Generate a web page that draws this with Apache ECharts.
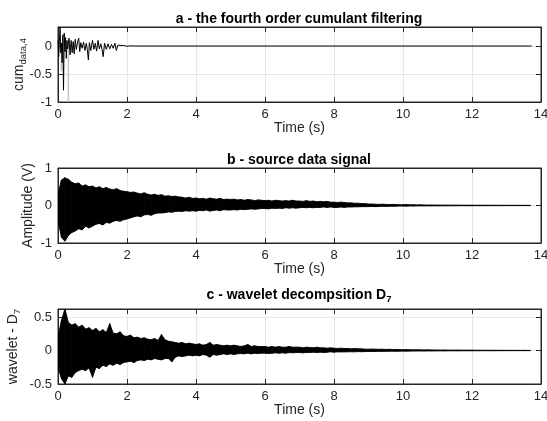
<!DOCTYPE html>
<html>
<head>
<meta charset="utf-8">
<script src="https://cdn.jsdelivr.net/npm/echarts@6/dist/echarts.min.js"></script>
<style>
html,body{margin:0;padding:0;background:#fff;}
#chart{width:547px;height:421px;}
</style>
</head>
<body>
<div id="chart"></div>
<script>
// ---------------- DATA ----------------
const titles = [
  'a - the fourth order cumulant filtering',
  'b - source data signal',
  'c - wavelet decompsition D{sub|7}'
];

// (a) fourth order cumulant: sample times (s) and values
const aTime = [
  0, 0.02, 0.04, 0.06, 0.08, 0.10, 0.12, 0.14, 0.16, 0.18,
  0.20, 0.22, 0.24, 0.26, 0.28, 0.32, 0.35, 0.38, 0.41, 0.44,
  0.47, 0.50, 0.53, 0.56, 0.60, 0.63, 0.66, 0.70, 0.74, 0.78,
  0.82, 0.85, 0.88, 0.91, 0.95, 1.00, 1.04, 1.08, 1.12, 1.16,
  1.20, 1.24, 1.28, 1.31, 1.35, 1.40, 1.45, 1.50, 1.55, 1.60,
  1.65, 1.69, 1.74, 1.80, 1.85, 1.90, 2.00, 2.10, 2.20, 13.73
];
const aValue = [
  0.10, -0.19, 0.08, 0.34, -0.12, 0.05, -0.30, 0.20, -0.79, 0.23,
  -0.10, 0.15, -0.22, 0.10, -0.05, 0.14, -0.16, 0.10, -0.12, 0.08,
  -0.14, 0.12, -0.06, 0.05, 0.14, -0.10, 0.06, -0.04, 0.07, -0.08,
  0.05, -0.06, -0.25, 0.06, -0.08, 0.10, -0.06, 0.05, -0.09, 0.10,
  -0.05, 0.04, -0.07, -0.19, 0.05, -0.06, 0.04, -0.05, 0.03, -0.04,
  0.05, -0.08, 0.02, 0.01, -0.015, 0.01, -0.005, 0.005, 0, 0
];
// faint (thin, anti-aliased) spikes in (a)
const aFaintTime = [0.10, 0.30];
const aFaintValue = [-0.45, -1.0];

// (b) and (c): envelope (upper / lower) of the dense signal, one pair every 0.1 s from 0 to 13.7 s
const SAMPLE_STEP = 0.1;
const bUpper = [
  0.30,0.68,0.74,0.70,0.62,0.58,0.60,0.52,0.55,0.50,
  0.52,0.47,0.50,0.45,0.48,0.44,0.42,0.45,0.40,0.38,
  0.37,0.35,0.36,0.33,0.31,0.34,0.30,0.28,0.30,0.27,
  0.29,0.25,0.26,0.24,0.25,0.23,0.22,0.20,0.22,0.19,
  0.20,0.18,0.19,0.17,0.20,0.18,0.17,0.19,0.16,0.17,
  0.16,0.17,0.15,0.16,0.14,0.16,0.15,0.13,0.15,0.14,
  0.13,0.14,0.12,0.14,0.13,0.12,0.13,0.12,0.14,0.12,
  0.12,0.11,0.13,0.11,0.12,0.10,0.11,0.10,0.11,0.09,
  0.09,0.08,0.09,0.08,0.07,0.07,0.06,0.06,0.05,0.05,
  0.04,0.04,0.035,0.03,0.035,0.03,0.025,0.03,0.025,0.02,
  0.02,0.025,0.018,0.02,0.015,0.018,0.015,0.012,0.015,0.012,
  0.012,0.01,0.012,0.01,0.01,0.009,0.01,0.008,0.009,0.008,
  0.008,0.007,0.008,0.007,0.006,0.007,0.006,0.006,0.005,0.006,
  0.005,0.005,0.006,0.005,0.004,0.005,0.004,0.004
];
const bLower = [
  -0.40,-0.85,-0.95,-0.80,-0.72,-0.68,-0.62,-0.65,-0.55,-0.60,
  -0.55,-0.50,-0.48,-0.52,-0.45,-0.47,-0.42,-0.40,-0.42,-0.38,
  -0.36,-0.33,-0.30,-0.28,-0.30,-0.25,-0.24,-0.26,-0.22,-0.20,
  -0.20,-0.19,-0.17,-0.18,-0.16,-0.15,-0.16,-0.14,-0.15,-0.14,
  -0.15,-0.13,-0.14,-0.12,-0.15,-0.13,-0.12,-0.14,-0.11,-0.12,
  -0.12,-0.11,-0.12,-0.10,-0.11,-0.10,-0.09,-0.10,-0.09,-0.08,
  -0.08,-0.09,-0.07,-0.08,-0.07,-0.08,-0.06,-0.07,-0.06,-0.07,
  -0.06,-0.05,-0.06,-0.05,-0.06,-0.05,-0.05,-0.04,-0.05,-0.04,
  -0.05,-0.05,-0.04,-0.05,-0.04,-0.04,-0.035,-0.035,-0.03,-0.03,
  -0.03,-0.025,-0.03,-0.025,-0.02,-0.025,-0.02,-0.02,-0.018,-0.015,
  -0.015,-0.018,-0.012,-0.015,-0.012,-0.01,-0.012,-0.01,-0.01,-0.009,
  -0.01,-0.008,-0.009,-0.008,-0.007,-0.008,-0.007,-0.006,-0.007,-0.006,
  -0.006,-0.005,-0.006,-0.005,-0.005,-0.004,-0.005,-0.004,-0.004,-0.004,
  -0.004,-0.004,-0.003,-0.004,-0.003,-0.003,-0.003,-0.003
];
const cUpper = [
  0.20,0.45,0.62,0.42,0.38,0.40,0.35,0.38,0.32,0.34,
  0.30,0.33,0.28,0.31,0.27,0.40,0.26,0.25,0.28,0.22,
  0.21,0.23,0.19,0.20,0.18,0.19,0.17,0.16,0.18,0.15,
  0.24,0.16,0.14,0.13,0.12,0.11,0.12,0.10,0.11,0.10,
  0.09,0.10,0.08,0.09,0.12,0.08,0.09,0.08,0.07,0.08,
  0.07,0.08,0.07,0.06,0.07,0.09,0.06,0.07,0.06,0.06,
  0.06,0.05,0.06,0.05,0.06,0.05,0.05,0.06,0.05,0.05,
  0.05,0.04,0.05,0.045,0.04,0.05,0.04,0.04,0.035,0.04,
  0.035,0.03,0.035,0.03,0.03,0.025,0.03,0.025,0.025,0.02,
  0.02,0.022,0.02,0.018,0.02,0.016,0.018,0.015,0.016,0.014,
  0.012,0.014,0.012,0.01,0.012,0.01,0.009,0.01,0.009,0.008,
  0.008,0.007,0.008,0.007,0.006,0.007,0.006,0.006,0.005,0.006,
  0.005,0.005,0.004,0.005,0.004,0.004,0.004,0.003,0.004,0.003,
  0.003,0.003,0.003,0.003,0.002,0.003,0.002,0.002
];
const cLower = [
  -0.25,-0.42,-0.50,-0.38,-0.40,-0.33,-0.30,-0.28,-0.30,-0.26,
  -0.40,-0.25,-0.27,-0.22,-0.24,-0.20,-0.22,-0.19,-0.21,-0.18,
  -0.17,-0.16,-0.18,-0.15,-0.14,-0.15,-0.13,-0.14,-0.12,-0.13,
  -0.14,-0.12,-0.12,-0.17,-0.10,-0.08,-0.09,-0.08,-0.07,-0.08,
  -0.07,-0.08,-0.06,-0.07,-0.10,-0.06,-0.07,-0.06,-0.05,-0.06,
  -0.05,-0.06,-0.05,-0.045,-0.05,-0.04,-0.05,-0.04,-0.045,-0.04,
  -0.04,-0.045,-0.04,-0.035,-0.04,-0.035,-0.04,-0.03,-0.035,-0.03,
  -0.03,-0.035,-0.03,-0.03,-0.025,-0.03,-0.025,-0.03,-0.025,-0.02,
  -0.025,-0.02,-0.022,-0.02,-0.02,-0.018,-0.02,-0.016,-0.018,-0.015,
  -0.015,-0.014,-0.015,-0.012,-0.013,-0.012,-0.011,-0.01,-0.011,-0.01,
  -0.009,-0.01,-0.009,-0.008,-0.008,-0.007,-0.008,-0.006,-0.007,-0.006,
  -0.006,-0.005,-0.006,-0.005,-0.005,-0.004,-0.005,-0.004,-0.004,-0.004,
  -0.004,-0.003,-0.004,-0.003,-0.003,-0.003,-0.003,-0.003,-0.002,-0.003,
  -0.002,-0.002,-0.002,-0.002,-0.002,-0.002,-0.002,-0.002
];

// y-axis settings per panel
const yMin = [-1, -1, -0.5];
const yMax = [0.34, 1, 0.62];
const yInterval = [0.5, 1, 0.5];
const yNames = ['cum{sub|data,4}', 'Amplitude (V)', 'wavelet - D{sub|7}'];

// ---------------- BUILD ----------------
const FONT = 'Liberation Sans, Arial, Helvetica, sans-serif';
const AX = '#262626';
const GRIDC = '#e6e6e6';
const gridTops = [27, 168, 309];
const gridH = 75;
const TICK_FS = 13, NAME_FS = 14;

function sampleTime(i) { return +(i * SAMPLE_STEP).toFixed(3); }
const aData = aTime.map((t, i) => [t, aValue[i]]);
const aFaint = [];
aFaintTime.forEach((t, i) => { aFaint.push([t, 0], [t, aFaintValue[i]], [t, 0], null); });

const grids = gridTops.map(t => ({
  left: 58, right: 6, top: t, height: gridH, containLabel: false, outerBoundsMode: 'none',
  show: true, borderColor: AX, borderWidth: 1, backgroundColor: '#fff'
}));

const subRich = {
  sub: { fontSize: 9.5, fontFamily: FONT, color: AX, padding: [8, 0, 0, 0] }
};

const tickStyle = { show: true, inside: true, length: 5, lineStyle: { color: AX, width: 1 } };
const lineStyleAx = { show: true, onZero: false, lineStyle: { color: AX, width: 1 } };
const xAxes = [], yAxes = [];
for (let g = 0; g < 3; g++) {
  xAxes.push({
    type: 'value', gridIndex: g, position: 'bottom', min: 0, max: 14, interval: 2,
    name: 'Time (s)', nameLocation: 'middle', nameGap: 19, nameMoveOverlap: false,
    nameTextStyle: { fontFamily: FONT, fontSize: NAME_FS, color: AX },
    axisLine: lineStyleAx, axisTick: tickStyle,
    axisLabel: { fontFamily: FONT, fontSize: TICK_FS, color: AX, margin: 6 },
    splitLine: { show: true, lineStyle: { color: GRIDC, width: 1 } }
  });
  xAxes.push({
    type: 'value', gridIndex: g, position: 'top', min: 0, max: 14, interval: 2,
    axisLine: lineStyleAx, axisTick: tickStyle,
    axisLabel: { show: false }, splitLine: { show: false }
  });
  yAxes.push({
    type: 'value', gridIndex: g, position: 'left', min: yMin[g], max: yMax[g], interval: yInterval[g],
    name: yNames[g], nameLocation: 'middle', nameGap: [30, 23, 36][g], nameRotate: 90,
    nameMoveOverlap: false,
    nameTextStyle: { fontFamily: FONT, fontSize: NAME_FS, color: AX, rich: subRich },
    axisLine: lineStyleAx, axisTick: tickStyle,
    axisLabel: { fontFamily: FONT, fontSize: TICK_FS, color: AX, margin: 6, showMaxLabel: g === 1 },
    splitLine: { show: true, lineStyle: { color: GRIDC, width: 1 } }
  });
  yAxes.push({
    type: 'value', gridIndex: g, position: 'right', min: yMin[g], max: yMax[g], interval: yInterval[g],
    axisLine: lineStyleAx, axisTick: tickStyle,
    axisLabel: { show: false }, splitLine: { show: false }
  });
}

const titleTops = [12, 153, 286];
const titleOpts = titles.map((txt, i) => ({
  text: txt, left: 299, top: titleTops[i], textAlign: 'center', padding: 0,
  textStyle: { fontFamily: FONT, fontSize: 14, fontWeight: 'bold', color: '#000',
    rich: { sub: { fontSize: 9.5, fontWeight: 'bold', fontFamily: FONT, color: '#000', padding: [8, 0, 0, 0] } } }
}));

// dense signal: band between the envelope samples, each piece placed through the axes
function envelopeSeries(up, lo, axis) {
  return {
    type: 'custom', xAxisIndex: axis, yAxisIndex: axis, animation: false, clip: true,
    data: up.map((u, i) => [sampleTime(i), u, lo[i]]),
    encode: { x: 0, y: [1, 2] },
    renderItem: function (params, api) {
      const i = params.dataIndex;
      if (i >= up.length - 1) return null;
      const t0 = sampleTime(i), t1 = sampleTime(i + 1);
      const pts = [
        api.coord([t0, up[i]]), api.coord([t1, up[i + 1]]),
        api.coord([t1, lo[i + 1]]), api.coord([t0, lo[i]])
      ];
      return {
        type: 'polygon',
        shape: { points: pts },
        style: { fill: '#000', stroke: '#000', lineWidth: 0.9 }
      };
    }
  };
}

const lineBase = { type: 'line', showSymbol: false, symbol: 'none', animation: false, clip: true };
const series = [
  Object.assign({}, lineBase, { xAxisIndex: 0, yAxisIndex: 0, data: aFaint, connectNulls: false,
    lineStyle: { color: '#c4c4c4', width: 1.5 } }),
  Object.assign({}, lineBase, { xAxisIndex: 0, yAxisIndex: 0, data: aData,
    lineStyle: { color: '#000', width: 1 } }),
  envelopeSeries(bUpper, bLower, 2),
  envelopeSeries(cUpper, cLower, 4)
];

const chart = echarts.init(document.getElementById('chart'), null, { renderer: 'canvas' });
chart.setOption({
  animation: false,
  backgroundColor: '#fff',
  title: titleOpts,
  grid: grids,
  xAxis: xAxes,
  yAxis: yAxes,
  series: series
});
</script>
</body>
</html>
